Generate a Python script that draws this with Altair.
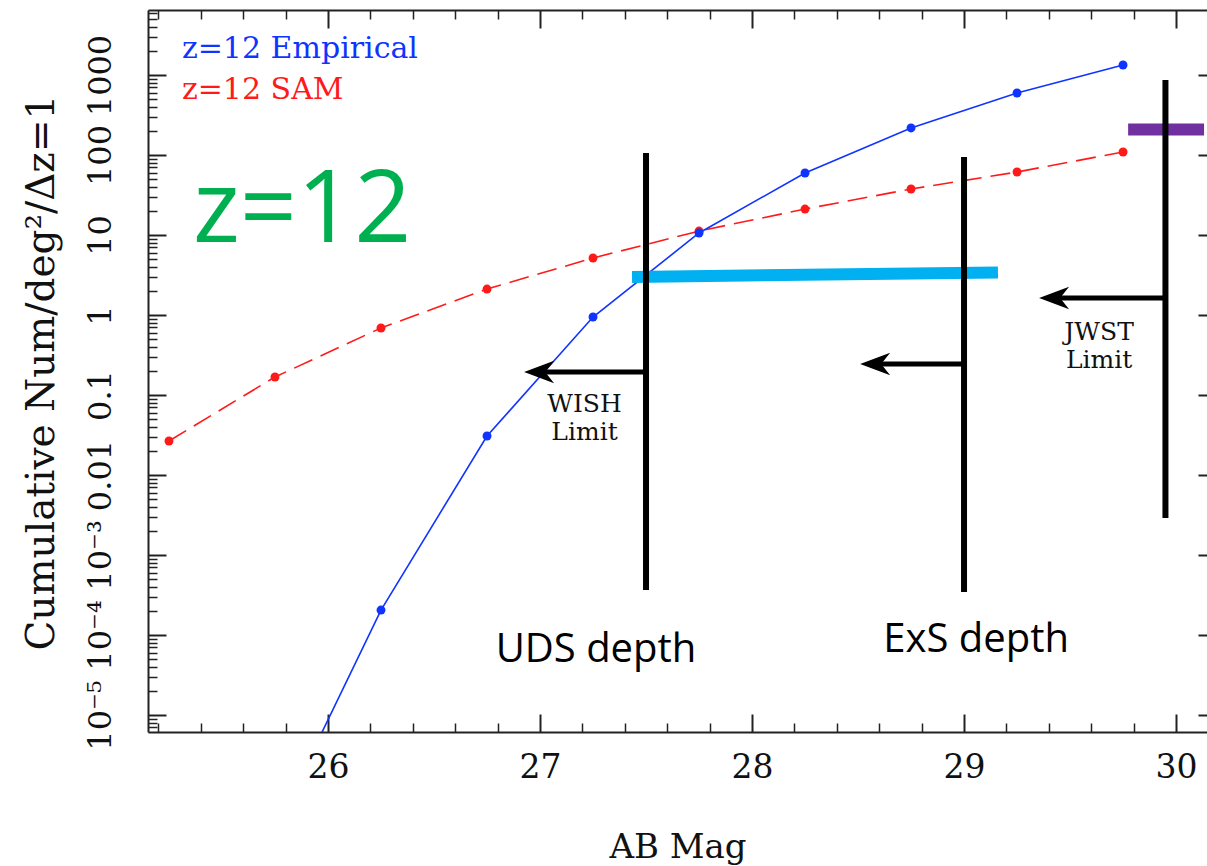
import altair as alt
import pandas as pd

# ---------------- values ----------------
mag_bins = [25.25, 25.75, 26.25, 26.75, 27.25, 27.75, 28.25, 28.75, 29.25, 29.75]
sam_num = [0.0266, 0.168, 0.688, 2.11, 5.16, 11.2, 21.1, 37.6, 61.3, 109.0]

emp_mag = [25.75, 26.25, 26.75, 27.25, 27.75, 28.25, 28.75, 29.25, 29.75]
emp_num = [3.7e-7, 2.05e-4, 0.0307, 0.944, 10.6, 59.6, 218.0, 596.0, 1333.0]

depth_mag = [27.5, 29.0, 29.95]
depth_top = [106.0, 94.4, 866.0]
depth_bottom = [3.65e-4, 3.45e-4, 2.9e-3]

arrow_tip = [26.925, 28.51, 29.354]
arrow_shaft_start = [27.02, 28.605, 29.45]
arrow_num = [0.194, 0.244, 1.63]

cyan_mag = [27.434, 29.16]
cyan_num = [2.99, 3.40]

purple_mag = [29.774]
purple_mag2 = [30.132]
purple_num = [208.0]

legend_labels = ["z=12 Empirical", "z=12 SAM"]
legend_colors = ["#1034ff", "#ff1a1a"]
legend_mag = [25.311, 25.311]
legend_num = [1631.0, 501.0]

limit_labels = ["WISH\nLimit", "JWST\nLimit"]
limit_mag = [27.21, 29.637]
limit_num = [0.0613, 0.487]

depth_labels = ["UDS depth", "ExS depth"]
depth_label_mag = [27.264, 29.057]
depth_label_num = [4.6e-5, 6.13e-5]

big_label = ["z=12"]
big_mag = [25.363]
big_num = [8.17]

x_major = [26, 27, 28, 29, 30]
x_minor = [25.2, 25.4, 25.6, 25.8, 26.2, 26.4, 26.6, 26.8, 27.2, 27.4, 27.6, 27.8,
           28.2, 28.4, 28.6, 28.8, 29.2, 29.4, 29.6, 29.8]
y_major = [1e-5, 1e-4, 1e-3, 1e-2, 1e-1, 1, 10, 100, 1000]
y_minor = [k * 10.0 ** e for e in range(-6, 4) for k in range(2, 10)]

# ---------------- layout ----------------
W, H = 1059, 722
AXC = "#222222"
SERIF = "DejaVu Serif"
SANS = "Open Sans"

xs = alt.Scale(domain=[25.151, 30.146], nice=False, zero=False)
ys = alt.Scale(type="log", domain=[10 ** -5.2125, 10 ** 3.8125], nice=False)

sam_df = pd.DataFrame({"mag": mag_bins, "num": sam_num})
emp_df = pd.DataFrame({"mag": emp_mag, "num": emp_num})
depth_df = pd.DataFrame({"mag": depth_mag, "top": depth_top, "bottom": depth_bottom})
arrow_df = pd.DataFrame({"tip": arrow_tip, "start": arrow_shaft_start,
                         "end": depth_mag, "num": arrow_num})
cyan_df = pd.DataFrame({"mag": cyan_mag, "num": cyan_num})
purple_df = pd.DataFrame({"mag": purple_mag, "mag2": purple_mag2, "num": purple_num})
legend_df = pd.DataFrame({"mag": legend_mag, "num": legend_num,
                          "label": legend_labels, "color": legend_colors})
limit_df = pd.DataFrame({"mag": limit_mag, "num": limit_num, "label": limit_labels})
dlab_df = pd.DataFrame({"mag": depth_label_mag, "num": depth_label_num, "label": depth_labels})
big_df = pd.DataFrame({"mag": big_mag, "num": big_num, "label": big_label})


def X(field="mag", axis=None):
    return alt.X(f"{field}:Q", scale=xs, axis=axis)


def Y(field="num", axis=None):
    return alt.Y(f"{field}:Q", scale=ys, axis=axis)


# ---------------- axes (ticks drawn inward via negative offsets) ----------------
ylabel_expr = ("datum.value < 0.00005 ? '10⁻⁵' : datum.value < 0.0005 ? '10⁻⁴' : "
               "datum.value < 0.005 ? '10⁻³' : datum.value < 0.05 ? '0.01' : "
               "datum.value < 0.5 ? '0.1' : datum.value < 5 ? '1' : "
               "datum.value < 50 ? '10' : datum.value < 500 ? '100' : '1000'")

ax_bottom_labels = alt.Axis(
    orient="bottom", values=x_major, format="d", ticks=False, tickSize=0,
    domain=True, domainColor=AXC, domainWidth=2, grid=False,
    labelFont=SERIF, labelFontSize=33, labelColor="#111111",
    labelBaseline="alphabetic", labelPadding=45, labelFlush=False, labelOverlap=False,
    title="AB Mag", titleFont=SERIF, titleFontSize=34, titleFontWeight="normal",
    titleColor="#111111", titleBaseline="alphabetic", titleY=125)

ax_left_labels = alt.Axis(
    orient="left", values=y_major, labelExpr=ylabel_expr, ticks=False, tickSize=0,
    domain=True, domainColor=AXC, domainWidth=2, grid=False,
    labelFont=SERIF, labelFontSize=32, labelColor="#111111", labelAngle=270,
    labelAlign="center", labelBaseline="alphabetic", labelPadding=38,
    labelFlush=False, labelOverlap=False,
    title="Cumulative Num/deg²/Δz=1", titleFont=SERIF, titleFontSize=39,
    titleFontWeight="normal", titleColor="#111111", titleAngle=270,
    titleAlign="center", titleBaseline="alphabetic", titleX=-95, titleY=362)


def tick_axis(orient, offset, values, size, width, domain=False):
    return alt.Axis(orient=orient, offset=offset, values=values, labels=False,
                    ticks=True, tickSize=size, tickWidth=width, tickColor=AXC,
                    domain=domain, domainColor=AXC, domainWidth=2,
                    grid=False, title=None)


axis_pairs = [
    (ax_bottom_labels, ax_left_labels),
    (tick_axis("top", -H, x_major, 18, 2), tick_axis("right", -W, y_major, 18, 2)),
    (tick_axis("top", -H, x_minor, 9, 1.5), tick_axis("right", -W, y_minor, 9, 1.5)),
    (tick_axis("bottom", -H, x_major, 18, 2, domain=True),
     tick_axis("left", -(W + 9), y_major, 18, 2)),
    (tick_axis("bottom", -H, x_minor, 9, 1.5), None),
]

layers = []
for xa, ya in axis_pairs:
    layers.append(alt.Chart(sam_df).mark_point(opacity=0).encode(x=X(axis=xa), y=Y(axis=ya)))

# ---------------- data ----------------
BLUE = "#1034ff"
RED = "#ff1a1a"

layers += [
    alt.Chart(sam_df).mark_line(color=RED, strokeWidth=1.6, strokeDash=[20, 9], clip=True)
    .encode(x=X(), y=Y()),
    alt.Chart(sam_df).mark_circle(color=RED, size=80, opacity=1, clip=True)
    .encode(x=X(), y=Y()),
    alt.Chart(emp_df).mark_line(color=BLUE, strokeWidth=1.6, clip=True)
    .encode(x=X(), y=Y()),
    alt.Chart(emp_df).mark_circle(color=BLUE, size=80, opacity=1, clip=True)
    .encode(x=X(), y=Y()),
]

# ---------------- annotations ----------------
layers += [
    alt.Chart(cyan_df).mark_line(color="#00b0f0", strokeWidth=12, strokeCap="butt", clip=True)
    .encode(x=X(), y=Y()),
    alt.Chart(purple_df).mark_rule(color="#7030a0", strokeWidth=12, strokeCap="butt", clip=True)
    .encode(x=X(), x2="mag2:Q", y=Y()),
    alt.Chart(depth_df).mark_rule(color="black", strokeWidth=6, strokeCap="butt", clip=True)
    .encode(x=X(), y=Y("top"), y2="bottom:Q"),
    alt.Chart(arrow_df).mark_rule(color="black", strokeWidth=5, strokeCap="butt", clip=True)
    .encode(x=X("start"), x2="end:Q", y=Y()),
    alt.Chart(arrow_df).mark_point(shape="M0,0 L2,-0.75 L1.4,0 L2,0.75 Z", filled=True,
                                   color="black", opacity=1, size=900, clip=True)
    .encode(x=X("tip"), y=Y()),
    alt.Chart(legend_df).mark_text(font=SERIF, fontSize=30, align="left", baseline="alphabetic")
    .encode(x=X(), y=Y(), text="label:N", color=alt.Color("color:N", scale=None)),
    alt.Chart(limit_df).mark_text(font=SERIF, fontSize=25, align="center",
                                  baseline="alphabetic", color="#111111",
                                  lineBreak="\n", lineHeight=28)
    .encode(x=X(), y=Y(), text="label:N"),
    alt.Chart(dlab_df).mark_text(font=SANS, fontSize=40, align="center",
                                 baseline="alphabetic", color="black")
    .encode(x=X(), y=Y(), text="label:N"),
    alt.Chart(big_df).mark_text(font=SANS, fontSize=100, align="left",
                                baseline="alphabetic", color="#00b050")
    .encode(x=X(), y=Y(), text="label:N"),
]

chart = (
    alt.layer(*layers)
    .resolve_axis(x="independent", y="independent")
    .properties(width=W, height=H, autosize=alt.AutoSizeParams(type="none"),
                padding={"left": 148, "top": 10, "right": 0, "bottom": 134},
                background="white")
    .configure_view(stroke=None)
)

chart.save("out.html", embed_options={"renderer": "svg", "actions": False})
